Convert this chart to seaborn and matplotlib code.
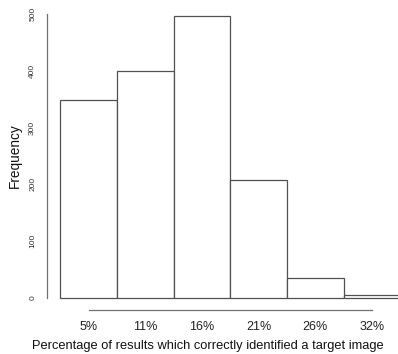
import matplotlib
matplotlib.use("Agg")
import matplotlib.pyplot as plt
import seaborn as sns
import pandas as pd

categories = ["5%", "11%", "16%", "21%", "26%", "32%"]
counts = [348, 400, 496, 208, 35, 6]
yticks = [0, 100, 200, 300, 400, 500]

sns.set_style("white")
plt.rcParams["font.family"] = ["Liberation Sans", "DejaVu Sans"]

W, H = 398, 354
fig = plt.figure(figsize=(W / 100, H / 100), dpi=100)
left_px, right_px, top_px, bottom_px = 46.7, 398, 5, 310
ax = fig.add_axes([left_px / W, (H - bottom_px) / H,
                   (right_px - left_px) / W, (bottom_px - top_px) / H])

df = pd.DataFrame({"pos": list(range(len(categories))), "count": counts})
sns.histplot(data=df, x="pos", weights="count", discrete=True, shrink=1,
             color="white", edgecolor="#505050", linewidth=0.9, alpha=1, ax=ax)

unit = 56.7
ax.set_xlim((left_px - 88.5) / unit, (right_px - 88.5) / unit)
pxv = 0.568
ax.set_ylim(-(bottom_px - 298) / pxv, 500 + (14 - top_px) / pxv)

for s in ["top", "right"]:
    ax.spines[s].set_visible(False)
ax.spines["left"].set_bounds(0, 500)
ax.spines["bottom"].set_bounds(0, len(categories) - 1)
for s in ["left", "bottom"]:
    ax.spines[s].set_color("#707070")
    ax.spines[s].set_linewidth(0.9)

ax.set_xticks(range(len(categories)))
ax.set_xticklabels(categories, fontsize=9, color="#222222")
ax.set_yticks(yticks)
ax.set_yticklabels([str(v) for v in yticks], fontsize=6, rotation=90,
                   va="center", color="#333333")
ax.tick_params(axis="both", which="both", length=3.6, width=0.9,
               color="#707070", direction="out")
ax.tick_params(axis="x", pad=4)
ax.tick_params(axis="y", pad=4)
ax.grid(False)

ax.set_xlabel("Percentage of results which correctly identified a target image",
              fontsize=9.3, color="#111111")
ax.xaxis.set_label_coords((207.5 - left_px) / (right_px - left_px),
                          -(349 - bottom_px) / (bottom_px - top_px))
ax.xaxis.label.set_va("baseline")
ax.set_ylabel("Frequency", fontsize=9.8, color="#111111")
ax.yaxis.set_label_coords(-(left_px - 15) / (right_px - left_px),
                          (bottom_px - 156) / (bottom_px - top_px))
ax.yaxis.label.set_va("center")

fig.savefig("out.png", dpi=100)
